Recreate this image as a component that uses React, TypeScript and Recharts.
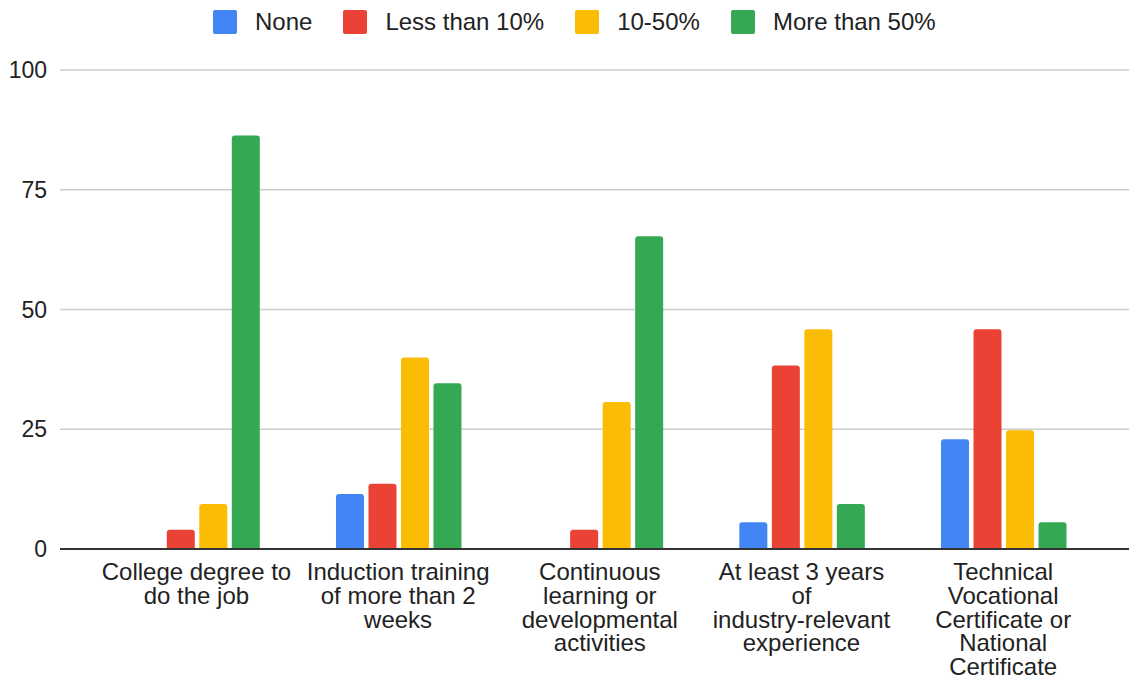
import { BarChart, Bar, XAxis, YAxis, CartesianGrid, Legend } from 'recharts'

const CATEGORIES = [
  'College degree to do the job',
  'Induction training of more than 2 weeks',
  'Continuous learning or developmental activities',
  'At least 3 years of industry-relevant experience',
  'Technical Vocational Certificate or National Certificate',
]

// how the reference wraps each category label
const CATEGORY_LINES = [
  ['College degree to', 'do the job'],
  ['Induction training', 'of more than 2', 'weeks'],
  ['Continuous', 'learning or', 'developmental', 'activities'],
  ['At least 3 years', 'of', 'industry-relevant', 'experience'],
  ['Technical', 'Vocational', 'Certificate or', 'National', 'Certificate'],
]

const NONE = [0, 11.5, 0, 5.6, 22.9]
const LESS_THAN_10 = [4.0, 13.6, 4.0, 38.3, 45.9]
const TEN_TO_50 = [9.4, 40.0, 30.7, 45.9, 24.8]
const MORE_THAN_50 = [86.3, 34.6, 65.3, 9.4, 5.6]

const Y_TICKS = [0, 25, 50, 75, 100]

const SERIES = [
  { key: 'none', name: 'None', color: '#4285F4' },
  { key: 'less', name: 'Less than 10%', color: '#EA4335' },
  { key: 'mid', name: '10-50%', color: '#FBBC04' },
  { key: 'more', name: 'More than 50%', color: '#34A853' },
]

const data = CATEGORIES.map((name, i) => ({
  name,
  none: NONE[i],
  less: LESS_THAN_10[i],
  mid: TEN_TO_50[i],
  more: MORE_THAN_50[i],
}))

const TEXT = '#222222'
const FONT = 24

function CategoryTick(props: any) {
  const { x, y, index } = props
  const lines = CATEGORY_LINES[index] || [String(props.payload?.value ?? '')]
  return (
    <text x={x} y={y + 31} textAnchor="middle" fill={TEXT} fontSize={FONT}>
      {lines.map((line, i) => (
        <tspan key={i} x={x} dy={i === 0 ? 0 : 23.8}>
          {line}
        </tspan>
      ))}
    </text>
  )
}

function TopLegend() {
  return (
    <div
      style={{
        height: 44,
        boxSizing: 'border-box',
        paddingTop: 10,
        paddingLeft: 213,
        display: 'flex',
        alignItems: 'flex-start',
      }}
    >
      {SERIES.map((s) => (
        <div key={s.key} style={{ display: 'flex', alignItems: 'center', marginRight: 31 }}>
          <span
            style={{
              width: 24,
              height: 24,
              background: s.color,
              borderRadius: 2,
              marginRight: 18,
              display: 'inline-block',
            }}
          />
          <span style={{ fontSize: FONT, color: TEXT, lineHeight: '24px' }}>{s.name}</span>
        </div>
      ))}
    </div>
  )
}

export default function App() {
  return (
    <div style={{ fontFamily: "Arial, 'Liberation Sans', sans-serif", background: '#fff' }}>
      <style>{'body{margin:0}'}</style>
      <BarChart
        width={1129}
        height={679}
        data={data}
        margin={{ top: 26, right: 0, bottom: 0, left: 0 }}
        barCategoryGap={38.7}
        barGap={4.5}
      >
        <Legend
          verticalAlign="top"
          content={() => <TopLegend />}
          wrapperStyle={{ top: 0, left: 0, width: 1129 }}
        />
        <CartesianGrid vertical={false} stroke="#cccccc" strokeWidth={1.5} />
        <YAxis
          width={60}
          domain={[0, 100]}
          ticks={Y_TICKS}
          axisLine={false}
          tickLine={false}
          tickSize={0}
          tickMargin={13}
          tick={{ fill: TEXT, fontSize: 23 }}
        />
        <XAxis
          dataKey="name"
          height={130}
          padding={{ left: 35.6, right: 25 }}
          axisLine={{ stroke: '#333333', strokeWidth: 2 }}
          tickLine={false}
          tickSize={0}
          tickMargin={0}
          interval={0}
          tick={<CategoryTick />}
        />
        {SERIES.map((s) => (
          <Bar
            key={s.key}
            dataKey={s.key}
            name={s.name}
            fill={s.color}
            radius={[3, 3, 0, 0]}
            isAnimationActive={false}
          />
        ))}
      </BarChart>
    </div>
  )
}
